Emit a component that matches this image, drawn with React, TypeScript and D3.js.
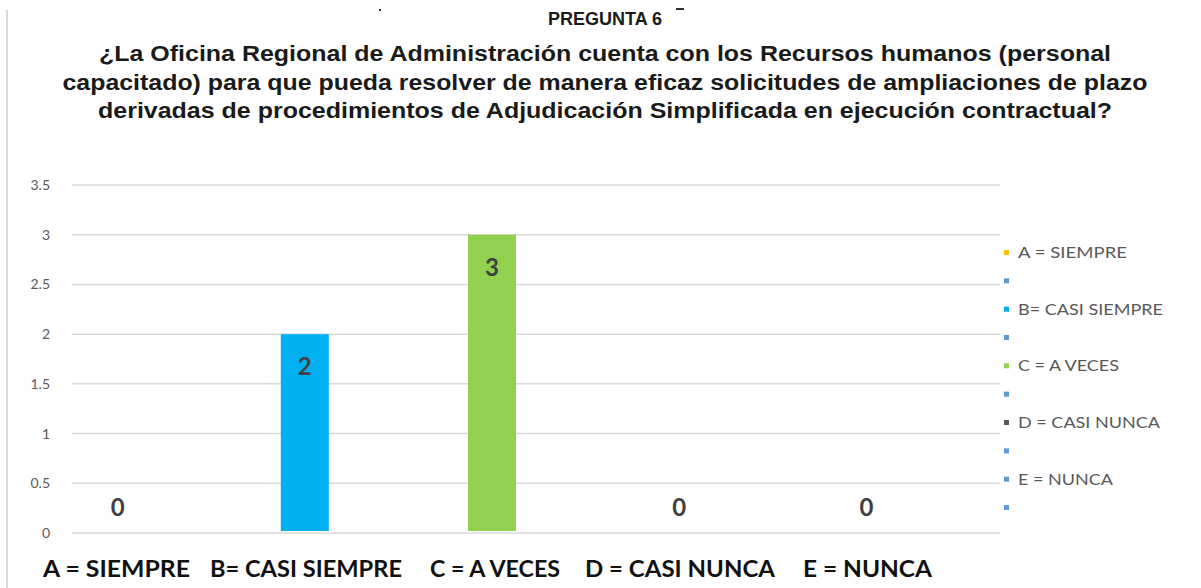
import * as d3 from "d3";

const categories = ["A", "B", "C", "D", "E"];
const values = [0, 2, 3, 0, 0];
const barColors = ["#FFC000", "#00B0F0", "#92D050", "#595959", "#5B9BD5"];
const yTicks = [0, 0.5, 1, 1.5, 2, 2.5, 3, 3.5];
const bottomLabels = ["A = SIEMPRE", "B= CASI SIEMPRE", "C = A VECES", "D = CASI NUNCA", "E = NUNCA"];
const legendLabels = ["A = SIEMPRE", "", "B= CASI SIEMPRE", "", "C = A VECES", "", "D = CASI NUNCA", "", "E = NUNCA", ""];
const legendColors = ["#FFC000", "#5B9BD5", "#00B0F0", "#5B9BD5", "#92D050", "#5B9BD5", "#595959", "#5B9BD5", "#5B9BD5", "#5B9BD5"];
const titleLines = [
  "¿La Oficina Regional de Administración cuenta con los Recursos humanos (personal",
  "capacitado) para que pueda resolver de manera eficaz solicitudes de ampliaciones de plazo",
  "derivadas de procedimientos de Adjudicación Simplificada en ejecución contractual?",
];

const W = 1201;
const H = 588;
const plot = { left: 72, right: 1008, top: 185, bottom: 533 };

// text box widths
const titleW = [1012, 1085, 1014];
const bottomPos = [43, 210, 430, 585, 803];
const bottomW = [147, 192, 130, 190, 129];
const legendW = [109, 0, 145, 0, 101, 0, 142, 0, 95, 0];

export default function App() {
  const y = d3.scaleLinear().domain([0, 3.5]).range([plot.bottom, plot.top]);
  const x = d3.scaleBand().domain(categories).range([plot.left, plot.right]);
  // each category holds 3 series slots, only the first one is used
  const xs = d3.scaleBand().domain(["s1", "s2", "s3"]).range([0, x.bandwidth()]).paddingOuter(0.45);
  const legendY = d3.scalePoint().domain(d3.range(legendLabels.length).map(String)).range([253, 508]);

  const labelFont = "Lato, 'Open Sans', sans-serif";

  return (
    <svg width={W} height={H} style={{ position: "absolute", left: 0, top: 0, background: "#fff" }}>
      <line x1={7} x2={7} y1={10} y2={H} stroke="#d9d9d9" strokeWidth={2} />
      <line x1={379} x2={381} y1={10} y2={10} stroke="#333" strokeWidth={2} />
      <line x1={676} x2={684} y1={9} y2={9} stroke="#333" strokeWidth={2} />

      <text x={605} y={25} textAnchor="middle" fontFamily="'Liberation Sans', Arial, sans-serif" fontWeight="bold" fontSize={18} fill="#1a1a1a">
        PREGUNTA 6
      </text>
      {titleLines.map((t, i) => (
        <text
          key={i}
          x={605 - titleW[i] / 2}
          y={61 + i * 28.5}
          fontFamily="'Liberation Sans', Arial, sans-serif"
          fontWeight="bold"
          fontSize={22}
          fill="#1a1a1a"
          textLength={titleW[i]}
          lengthAdjust="spacingAndGlyphs"
        >
          {t}
        </text>
      ))}

      {yTicks.map((t) => (
        <g key={t}>
          <line x1={plot.left} x2={plot.right - 8} y1={y(t)} y2={y(t)} stroke="#d9d9d9" strokeWidth={1.5} />
          <text x={50} y={y(t) + 5} textAnchor="end" fontFamily={labelFont} fontSize={14} fill="#595959">
            {t}
          </text>
        </g>
      ))}

      {categories.map((c, i) => {
        const bx = (x(c) ?? 0) + (xs("s1") ?? 0);
        const v = values[i];
        return (
          <g key={c}>
            {v > 0 && (
              <rect x={bx} y={y(v)} width={xs.bandwidth()} height={y(0) - y(v) - 2} fill={barColors[i]} />
            )}
            <text
              x={bx + xs.bandwidth() / 2}
              y={v > 0 ? y(v) + 41 : y(0) - 17}
              textAnchor="middle"
              fontFamily={labelFont}
              fontWeight="bold"
              fontSize={24}
              fill="#404040"
            >
              {v}
            </text>
          </g>
        );
      })}

      {legendLabels.map((l, i) => {
        const ly = legendY(String(i)) ?? 0;
        return (
          <g key={i}>
            <rect x={1004} y={ly - 3} width={5} height={5} fill={legendColors[i]} />
            {l && (
              <text
                x={1018}
                y={ly + 5}
                fontFamily={labelFont}
                fontSize={15}
                fill="#595959"
                textLength={legendW[i]}
                lengthAdjust="spacingAndGlyphs"
              >
                {l}
              </text>
            )}
          </g>
        );
      })}

      {bottomLabels.map((l, i) => (
        <text
          key={l}
          x={bottomPos[i]}
          y={577}
          fontFamily={labelFont}
          fontWeight="bold"
          fontSize={23}
          fill="#111"
          textLength={bottomW[i]}
          lengthAdjust="spacingAndGlyphs"
        >
          {l}
        </text>
      ))}
    </svg>
  );
}
